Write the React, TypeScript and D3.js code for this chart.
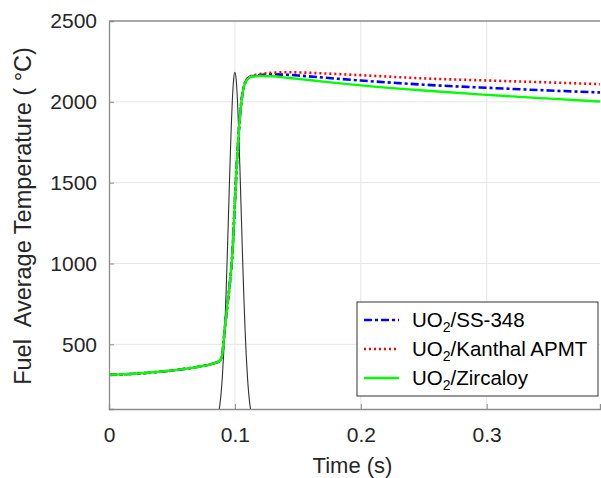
import React, { useEffect, useRef } from 'react';
import * as d3 from 'd3';

// time points shared by the three fuel curves (s)
const fuelTime = [
  0, 0.02, 0.04, 0.06, 0.07, 0.08, 0.085, 0.088, 0.09, 0.092, 0.094, 0.096, 0.098, 0.1,
  0.102, 0.104, 0.106, 0.108, 0.11, 0.112, 0.115, 0.12, 0.13, 0.14, 0.15, 0.17, 0.2, 0.25,
  0.3, 0.35, 0.39,
];

// fuel average temperature (°C)
const ss348 = [
  311, 318, 330, 348, 360, 375, 387, 398, 440, 600, 740, 880, 1060, 1380, 1680, 1910, 2050,
  2115, 2143, 2155, 2160, 2166, 2170, 2168, 2163, 2150, 2132, 2106, 2087, 2070, 2058,
];
const kanthal = [
  311, 318, 330, 348, 360, 375, 387, 398, 440, 600, 740, 880, 1060, 1380, 1680, 1910, 2050,
  2117, 2146, 2158, 2164, 2172, 2180, 2183, 2182, 2176, 2165, 2145, 2132, 2120, 2109,
];
const zircaloy = [
  311, 318, 330, 348, 360, 375, 387, 398, 440, 600, 740, 880, 1060, 1380, 1680, 1910, 2050,
  2113, 2140, 2152, 2157, 2160, 2158, 2150, 2142, 2125, 2102, 2070, 2043, 2020, 2002,
];

// power pulse shape (plotted on the same axis)
const pulseTime = [
  0.084, 0.085, 0.086, 0.087, 0.088, 0.089, 0.09, 0.091, 0.092, 0.093, 0.094, 0.095, 0.096,
  0.097, 0.098, 0.099, 0.1, 0.101, 0.102, 0.103, 0.104, 0.105, 0.106, 0.107, 0.108, 0.109,
  0.11, 0.111, 0.112, 0.113, 0.114, 0.115, 0.116,
];
const pulse = [
  13, 24, 43, 74, 122, 194, 295, 432, 607, 819, 1062, 1324, 1585, 1823, 2015, 2140, 2183,
  2140, 2015, 1823, 1585, 1324, 1062, 819, 607, 432, 295, 194, 122, 74, 43, 24, 13,
];

const xTicks = [0, 0.1, 0.2, 0.3];
const yTicks = [500, 1000, 1500, 2000, 2500];

const series = [
  { name: 'SS-348', values: ss348, color: '#0000ff', dash: '8,3,3,3', width: 2.6 },
  { name: 'Kanthal APMT', values: kanthal, color: '#ff0000', dash: '2,3', width: 2.6 },
  { name: 'Zircaloy', values: zircaloy, color: '#00ff00', dash: null, width: 2.4 },
];

const W = 601;
const H = 478;
const margin = { left: 109, top: 21, right: 1, bottom: 69 };
const font = 'Liberation Sans, Arial, sans-serif';

const App = () => {
  const svgRef = useRef(null);

  useEffect(() => {
    const width = W - margin.left - margin.right;
    const height = H - margin.top - margin.bottom;

    const x = d3.scaleLinear().domain([0, 0.39]).range([0, width]);
    const y = d3.scaleLinear().domain([100, 2500]).range([height, 0]);

    const svgEl = d3.select(svgRef.current);
    svgEl.selectAll('*').remove();
    const svg = svgEl.append('g').attr('transform', `translate(${margin.left},${margin.top})`);

    svg.append('clipPath').attr('id', 'plot-clip')
      .append('rect').attr('width', width).attr('height', height);

    // grid lines
    svg.append('g').selectAll('line').data(xTicks.filter((d) => d > 0)).enter().append('line')
      .attr('x1', (d) => x(d)).attr('x2', (d) => x(d)).attr('y1', 0).attr('y2', height)
      .attr('stroke', '#e6e6e6').attr('stroke-width', 1);
    svg.append('g').selectAll('line').data(yTicks.filter((d) => d < 2500)).enter().append('line')
      .attr('x1', 0).attr('x2', width).attr('y1', (d) => y(d)).attr('y2', (d) => y(d))
      .attr('stroke', '#e6e6e6').attr('stroke-width', 1);

    // curves
    const plot = svg.append('g').attr('clip-path', 'url(#plot-clip)');
    const pulseLine = d3.line()
      .x((d, i) => x(pulseTime[i]))
      .y((d) => y(d))
      .curve(d3.curveMonotoneX);
    plot.append('path')
      .attr('d', pulseLine(pulse))
      .attr('fill', 'none').attr('stroke', '#303030').attr('stroke-width', 1.1);

    const fuelLine = d3.line()
      .x((d, i) => x(fuelTime[i]))
      .y((d) => y(d))
      .curve(d3.curveMonotoneX);
    // blue and red first, green drawn last (on top)
    series.forEach((s) => {
      plot.append('path')
        .attr('d', fuelLine(s.values))
        .attr('fill', 'none')
        .attr('stroke', s.color)
        .attr('stroke-width', s.width)
        .attr('stroke-dasharray', s.dash);
    });

    // axes
    const xAxis = d3.axisBottom(x).tickValues(xTicks).tickSize(-5).tickPadding(18)
      .tickFormat((d) => `${d}`);
    const xg = svg.append('g').attr('transform', `translate(0,${height})`).call(xAxis);
    const yAxis = d3.axisLeft(y).tickValues(yTicks).tickSize(-5).tickPadding(12)
      .tickFormat(d3.format('d'));
    const yg = svg.append('g').call(yAxis);
    [xg, yg].forEach((g) => {
      g.select('.domain').attr('stroke', '#8c8c8c').attr('stroke-width', 1.3);
      g.selectAll('line').attr('stroke', '#8c8c8c');
      g.selectAll('text').attr('fill', '#262626').attr('font-size', 21).attr('font-family', font);
    });
    svg.append('line').attr('x1', 0).attr('x2', width).attr('y1', 0).attr('y2', 0)
      .attr('stroke', '#8c8c8c').attr('stroke-width', 1.3);

    // axis titles
    svg.append('text')
      .attr('x', x(0.39) / 2 - 2).attr('y', height + 64)
      .attr('text-anchor', 'middle').attr('font-size', 22).attr('font-family', font)
      .attr('fill', '#262626').text('Time (s)');
    svg.append('text')
      .attr('transform', `translate(${-margin.left + 31},${height / 2 + 1}) rotate(-90)`)
      .attr('text-anchor', 'middle').attr('font-size', 23.5).attr('font-family', font)
      .attr('fill', '#262626').attr('xml:space', 'preserve')
      .text('Fuel  Average Temperature ( °C)');

    // legend
    const lg = svg.append('g').attr('transform', `translate(${357 - margin.left},${302 - margin.top})`);
    lg.append('rect').attr('width', 241).attr('height', 94)
      .attr('fill', '#fff').attr('stroke', '#333').attr('stroke-width', 1);
    series.forEach((s, i) => {
      const cy = 18 + i * 29;
      lg.append('line').attr('x1', 7).attr('x2', 42).attr('y1', cy).attr('y2', cy)
        .attr('stroke', s.color).attr('stroke-width', s.width)
        .attr('stroke-dasharray', s.dash);
      const t = lg.append('text').attr('x', 55).attr('y', cy + 7)
        .attr('font-size', 20.5).attr('font-family', font).attr('fill', '#000');
      t.append('tspan').text('UO');
      t.append('tspan').attr('font-size', 14).attr('dy', 5).text('2');
      t.append('tspan').attr('dy', -5).text(`/${s.name}`);
    });
  }, []);

  return (
    <svg
      ref={svgRef}
      width={W}
      height={H}
      style={{ position: 'absolute', left: 0, top: 0, background: '#fff' }}
    />
  );
};

export default App;
